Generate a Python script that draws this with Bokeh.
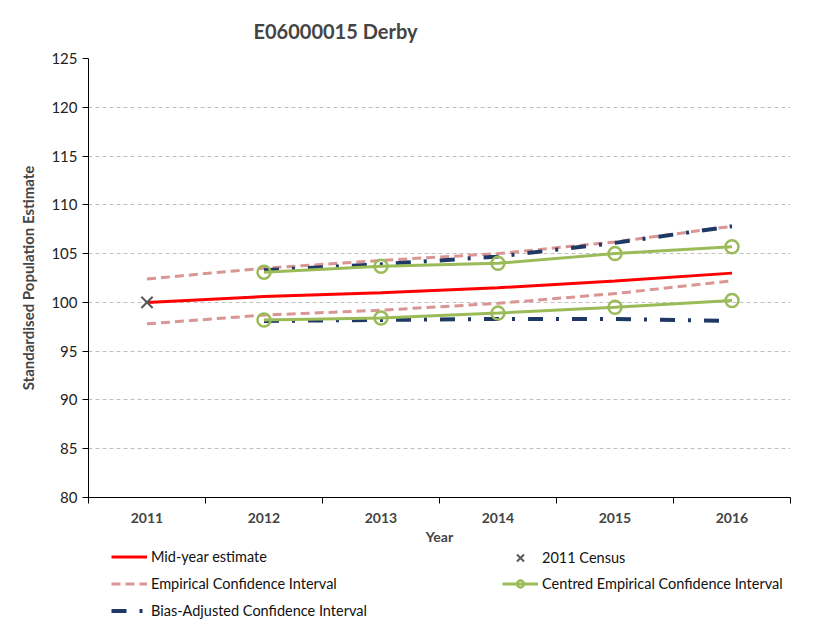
from bokeh.plotting import figure
from bokeh.models import Range1d, FixedTicker, Legend, LegendItem
from bokeh.layouts import column
from bokeh.embed import file_html
from bokeh.resources import INLINE

years = [2011, 2012, 2013, 2014, 2015, 2016]
ci_years = [2012, 2013, 2014, 2015, 2016]
mid_year = [100.0, 100.6, 101.0, 101.5, 102.2, 103.0]
census_year = [2011]
census_val = [100.0]
emp_upper = [102.4, 103.5, 104.3, 105.0, 106.2, 107.8]
emp_lower = [97.8, 98.7, 99.2, 99.9, 100.9, 102.2]
cen_upper = [103.1, 103.7, 104.0, 105.0, 105.7]
cen_lower = [98.2, 98.4, 98.9, 99.5, 100.2]
bias_upper = [103.3, 103.9, 104.7, 106.1, 107.8]
bias_lower = [98.1, 98.2, 98.3, 98.3, 98.1]
y_ticks = [80, 85, 90, 95, 100, 105, 110, 115, 120, 125]
title_text = "E06000015 Derby"

FONT = "Lato"
RED = "#FF0000"
PINK = "#D99694"
GREEN = "#9BBB59"
NAVY = "#1F3864"
GREY = "#595959"

p = figure(width=834, height=547, output_backend="svg", toolbar_location=None,
           x_range=Range1d(2010.5, 2016.5), y_range=Range1d(80, 125),
           min_border_left=88, min_border_right=44, min_border_top=58, min_border_bottom=50)
p.outline_line_color = None
p.background_fill_color = "white"

p.title.text = title_text
p.title.text_font = FONT
p.title.text_font_size = "20px"
p.title.text_font_style = "bold"
p.title.align = "left"
p.title.offset = 165
p.title.standoff = 32

# grid
p.xgrid.grid_line_color = None
p.ygrid.grid_line_color = "#C0C0C0"
p.ygrid.grid_line_dash = "4 3"
p.ygrid.ticker = FixedTicker(ticks=y_ticks)

# y axis
p.yaxis.ticker = FixedTicker(ticks=y_ticks)
p.yaxis.axis_label = "Standardised Population Estimate"
p.yaxis.axis_label_text_font = FONT
p.yaxis.axis_label_text_font_size = "15px"
p.yaxis.axis_label_text_font_style = "bold"
p.yaxis.axis_label_standoff = 11
p.yaxis.major_label_text_font = FONT
p.yaxis.major_label_text_font_size = "15px"
p.yaxis.major_label_text_color = "#222222"
p.yaxis.axis_line_color = "black"
p.yaxis.major_tick_out = 6
p.yaxis.major_tick_in = 0
p.yaxis.minor_tick_line_color = None

# x axis
p.xaxis.ticker = FixedTicker(ticks=years, minor_ticks=[2010.5, 2011.5, 2012.5, 2013.5, 2014.5, 2015.5, 2016.5])
p.xaxis.axis_label = "Year"
p.xaxis.axis_label_text_font = FONT
p.xaxis.axis_label_text_font_size = "14px"
p.xaxis.axis_label_text_font_style = "bold"
p.xaxis.axis_label_standoff = 2
p.xaxis.major_label_text_font = FONT
p.xaxis.major_label_text_font_size = "14px"
p.xaxis.major_label_text_font_style = "bold"
p.xaxis.major_label_standoff = 9
p.xaxis.major_tick_line_color = None
p.xaxis.major_tick_out = 0
p.xaxis.minor_tick_line_color = "black"
p.xaxis.minor_tick_out = 6
p.xaxis.minor_tick_in = 0
p.xaxis.axis_line_color = "black"

def draw(fig):
    r = {}
    r["emp_u"] = fig.line(years, emp_upper, line_color=PINK, line_width=3, line_dash="9 5")
    r["emp_l"] = fig.line(years, emp_lower, line_color=PINK, line_width=3, line_dash="9 5")
    r["bias_u"] = fig.line(ci_years, bias_upper, line_color=NAVY, line_width=4, line_dash="15 13 3 13")
    r["bias_l"] = fig.line(ci_years, bias_lower, line_color=NAVY, line_width=4, line_dash="15 13 3 13")
    r["cen_u"] = fig.line(ci_years, cen_upper, line_color=GREEN, line_width=3)
    r["cen_l"] = fig.line(ci_years, cen_lower, line_color=GREEN, line_width=3)
    r["cen_um"] = fig.scatter(ci_years, cen_upper, marker="circle", size=13, line_color=GREEN,
                              line_width=2.5, fill_alpha=0)
    r["cen_lm"] = fig.scatter(ci_years, cen_lower, marker="circle", size=13, line_color=GREEN,
                              line_width=2.5, fill_alpha=0)
    r["mid"] = fig.line(years, mid_year, line_color=RED, line_width=3)
    r["census"] = fig.scatter(census_year, census_val, marker="x", size=16,
                              line_color=GREY, line_width=2)
    return r

draw(p)

# legend strip below the chart (its ranges keep the series out of view)
lg = figure(width=834, height=82, output_backend="svg", toolbar_location=None,
            x_range=Range1d(0, 1), y_range=Range1d(0, 1),
            x_axis_location=None, y_axis_location=None,
            min_border_left=88, min_border_right=44, min_border_top=0, min_border_bottom=0)
lg.outline_line_color = None
lg.grid.visible = False
dr = draw(lg)

def mk_legend(items, loc, gh=17, fs="14.5px"):
    return Legend(items=items, location=loc, orientation="vertical",
                  label_text_font=FONT, label_text_font_size=fs, label_text_color="#111111",
                  glyph_width=36, glyph_height=gh, label_height=gh, spacing=10,
                  label_standoff=4, padding=0, margin=0,
                  border_line_color=None, background_fill_alpha=0)

left_lg = mk_legend([
    LegendItem(label="Mid-year estimate", renderers=[dr["mid"]]),
    LegendItem(label="Empirical Confidence Interval", renderers=[dr["emp_u"]]),
    LegendItem(label="Bias-Adjusted Confidence Interval", renderers=[dr["bias_u"]]),
], (23, 10))
census_lg = mk_legend([
    LegendItem(label="2011 Census", renderers=[dr["census"]]),
], (414, 59), gh=25)
right_lg = mk_legend([
    LegendItem(label="Centred Empirical Confidence Interval", renderers=[dr["cen_u"], dr["cen_um"]]),
], (414, 37))
lg.add_layout(left_lg, "center")
lg.add_layout(census_lg, "center")
lg.add_layout(right_lg, "center")

layout = column(p, lg, spacing=0)
open("out.html", "w").write(file_html(layout, INLINE))
